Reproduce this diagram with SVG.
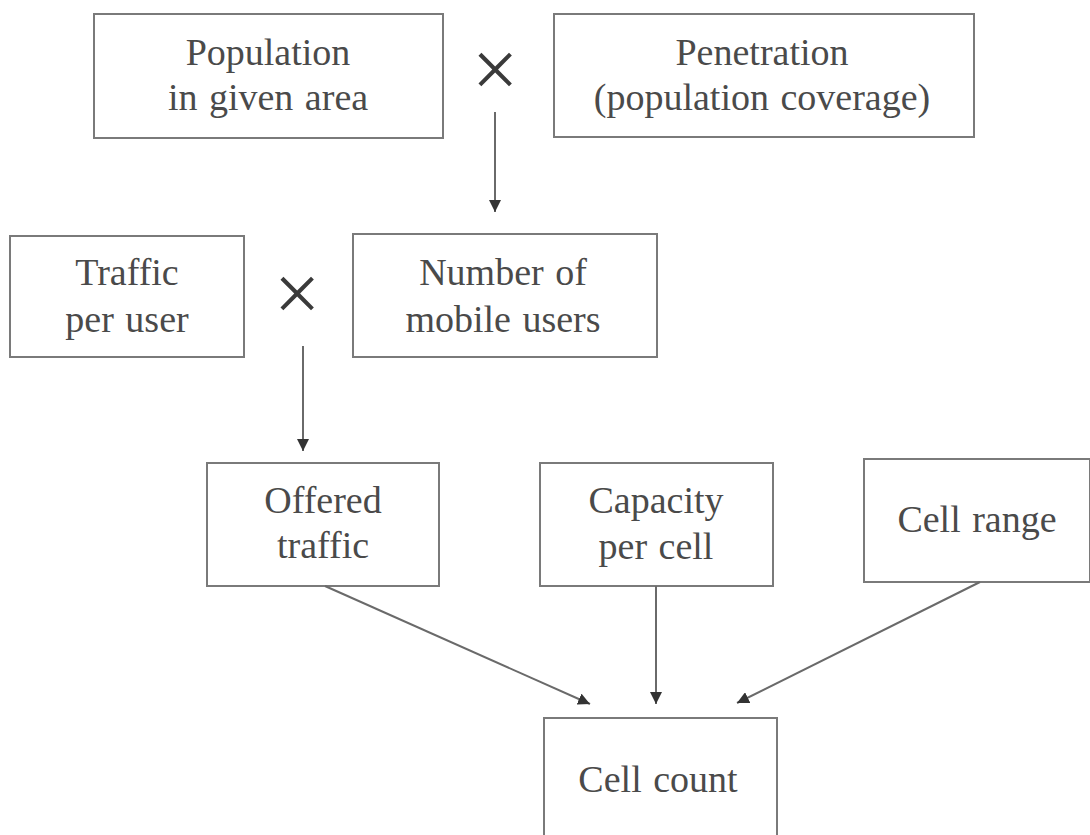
<svg xmlns="http://www.w3.org/2000/svg" width="1090" height="835" viewBox="0 0 1090 835">
  <style>
    .box { fill: #ffffff; stroke: #7a7a7a; stroke-width: 2; }
    .lbl { font-family: "Liberation Serif", "Times New Roman", serif; font-size: 38px; fill: #4a4a4a; text-anchor: middle; word-spacing: 2px; }
    .times { font-family: "Liberation Serif", "Times New Roman", serif; font-size: 82px; fill: #3a3a3a; text-anchor: middle; }
    .edge { stroke: #6a6a6a; stroke-width: 2; fill: none; marker-end: url(#arrow); }
  </style>
  <defs>
    <marker id="arrow" viewBox="0 0 10 10" refX="10" refY="5" markerWidth="6" markerHeight="6" markerUnits="strokeWidth" orient="auto">
      <path d="M0,0 L10,5 L0,10 z" fill="#333333"/>
    </marker>
  </defs>
  <rect x="0" y="0" width="1090" height="835" fill="#ffffff"/>

  <g id="population">
    <rect class="box" x="94" y="14" width="349" height="124"/>
    <text class="lbl" x="268" y="65">Population</text>
    <text class="lbl" x="268" y="110">in given area</text>
  </g>
  <g id="penetration">
    <rect class="box" x="554" y="14" width="420" height="123"/>
    <text class="lbl" x="762" y="65">Penetration</text>
    <text class="lbl" x="762" y="110">(population coverage)</text>
  </g>
  <g id="traffic-per-user">
    <rect class="box" x="10" y="236" width="234" height="121"/>
    <text class="lbl" x="127" y="285">Traffic</text>
    <text class="lbl" x="127" y="332">per user</text>
  </g>
  <g id="mobile-users">
    <rect class="box" x="353" y="234" width="304" height="123"/>
    <text class="lbl" x="503" y="285">Number of</text>
    <text class="lbl" x="503" y="332">mobile users</text>
  </g>
  <g id="offered-traffic">
    <rect class="box" x="207" y="463" width="232" height="123"/>
    <text class="lbl" x="323" y="513">Offered</text>
    <text class="lbl" x="323" y="558">traffic</text>
  </g>
  <g id="capacity-per-cell">
    <rect class="box" x="540" y="463" width="233" height="123"/>
    <text class="lbl" x="656" y="513">Capacity</text>
    <text class="lbl" x="656" y="559">per cell</text>
  </g>
  <g id="cell-range">
    <rect class="box" x="864" y="459" width="226" height="123"/>
    <text class="lbl" x="977" y="532">Cell range</text>
  </g>
  <g id="cell-count">
    <rect class="box" x="544" y="718" width="233" height="130"/>
    <text class="lbl" x="658" y="792">Cell count</text>
  </g>

  <g id="operators">
    <text class="times" x="495" y="97">×</text>
    <text class="times" x="297" y="321">×</text>
  </g>

  <g id="connectors">
    <line class="edge" x1="495" y1="112" x2="495" y2="212"/>
    <line class="edge" x1="303" y1="346" x2="303" y2="451"/>
    <line class="edge" x1="325" y1="586" x2="590" y2="704"/>
    <line class="edge" x1="656" y1="586" x2="656" y2="704"/>
    <line class="edge" x1="980" y1="582" x2="737" y2="703"/>
  </g>
</svg>
